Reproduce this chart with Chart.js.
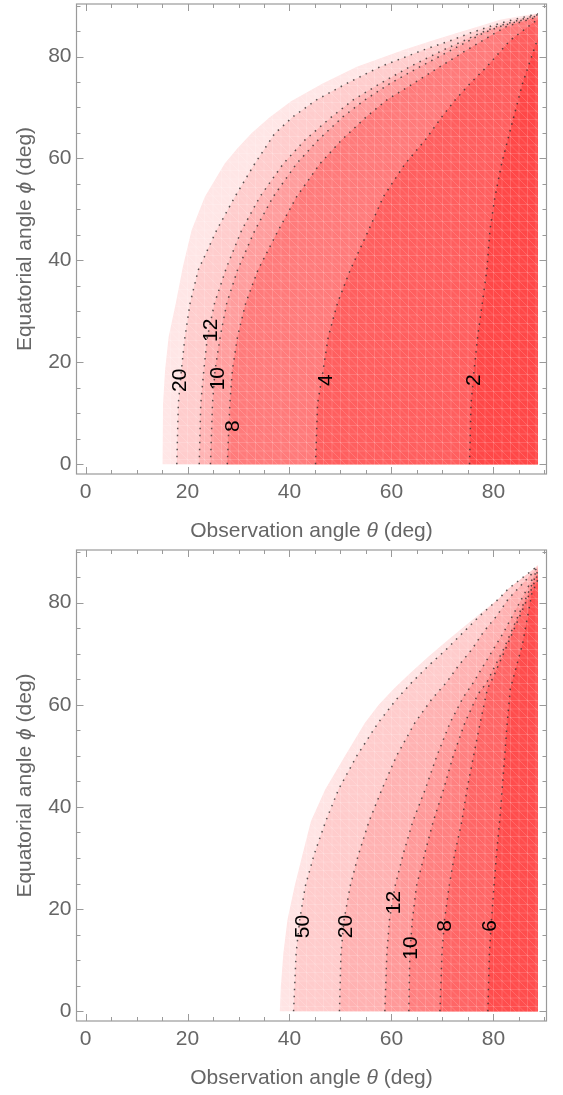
<!DOCTYPE html>
<html>
<head>
<meta charset="utf-8">
<title>Contour maps</title>
<script src="https://cdn.jsdelivr.net/npm/chart.js@4.4.1/dist/chart.umd.min.js"></script>
<style>
  html, body { margin: 0; padding: 0; background: #fff; }
  #wrap { position: relative; width: 563px; height: 1095px; }
  canvas { position: absolute; left: 0; }
</style>
</head>
<body>
<div id="wrap">
  <canvas id="upper" width="563" height="547" style="top:0"></canvas>
  <canvas id="lower" width="563" height="548" style="top:547px"></canvas>
</div>
<script>
// ---- data: [theta, phi] in degrees ----
var thetaEdge = 88.7;
var axisTicks = [0, 20, 40, 60, 80];

// upper panel
var upperEdge = [[15.1,0],[15.2,11.9],[15.6,18.5],[16.3,25.0],[17.7,31.6],[19.1,38.8],[20.8,45.9],[23.4,52.5],[27.3,59.0],[29.8,62.0],[32.6,65.0],[36.0,68.0],[40.3,71.2],[46.5,74.7],[53.2,78.0],[62.3,81.3],[68.2,83.2],[72.8,84.6],[78.0,86.2],[81.3,87.2],[84.5,87.8],[88.7,88.5]];
var upper20 = [[17.9,0],[18.2,11.9],[18.8,18.5],[19.5,25.0],[20.5,31.6],[22.1,38.1],[25.7,45.9],[29.3,52.5],[33.2,59.0],[37.1,64.9],[40.7,68.2],[45.3,71.5],[51.2,74.7],[57.8,78.0],[66.3,81.3],[71.8,83.2],[75.4,84.6],[79.3,85.9],[82.6,86.9],[88.7,88.4]];
var upper12 = [[22.3,0],[22.6,11.9],[23.2,18.5],[23.9,25.0],[25.3,31.6],[27.6,38.5],[30.6,45.9],[34.2,52.5],[38.8,59.0],[43.0,63.6],[48.3,68.2],[52.5,71.5],[57.8,74.7],[63.6,78.0],[70.2,81.3],[74.4,83.2],[77.4,84.6],[80.7,85.9],[88.7,88.2]];
var upper10 = [[24.5,0],[24.9,11.9],[25.4,18.5],[26.4,25.0],[27.7,31.6],[29.8,38.1],[33.2,45.9],[36.8,52.5],[41.4,59.0],[45.6,63.6],[50.5,68.2],[54.8,71.5],[59.7,74.7],[65.6,78.0],[71.8,81.3],[75.4,83.2],[78.0,84.6],[81.3,85.9],[88.7,88.0]];
var upper8 = [[27.8,0],[28.3,11.9],[28.8,18.5],[29.8,25.0],[31.4,31.6],[33.8,38.1],[37.8,45.9],[41.4,52.5],[46.0,59.0],[50.2,63.6],[55.1,68.2],[59.1,71.5],[64.3,74.7],[69.5,78.0],[74.8,81.3],[78.0,83.2],[80.3,84.6],[82.6,85.9],[88.7,87.8]];
var upper4 = [[45.1,0],[45.5,11.9],[46.6,18.5],[47.6,25.0],[49.4,31.6],[51.9,38.1],[55.5,45.9],[58.4,52.5],[62.7,59.0],[66.6,63.6],[69.9,68.2],[72.5,71.5],[75.4,74.7],[78.7,78.0],[81.6,81.3],[83.3,83.2],[88.7,87.3]];
var upper2 = [[75.3,0],[75.6,11.9],[76.2,18.5],[76.9,25.0],[77.8,31.6],[78.7,38.1],[79.3,45.9],[80.3,52.5],[81.6,59.0],[83.2,65.2],[85.7,74.7],[88.7,83.6]];
var upperColors = ['#ffe6e6', '#ffcdcd', '#ffb4b4', '#ff9d9d', '#ff7b7b', '#ff5f5f', '#ff4848'];
var upperLabels = [['20',18.6,16.5],['12',24.6,26.3],['10',26.0,16.8],['8',29.0,7.5],['4',47.2,16.5],['2',76.3,16.5]];

// lower panel
var lowerEdge = [[38.1,0],[38.3,4.8],[38.8,11.4],[39.6,17.9],[41.0,24.5],[42.5,30.5],[44.2,37.2],[47.0,43.4],[50.9,50.0],[54.8,56.5],[57.5,60.0],[60.6,63.3],[63.8,66.3],[67.1,69.3],[70.6,72.3],[74.2,75.3],[77.8,78.2],[81.3,81.0],[84.6,83.5],[86.8,85.3],[88.7,87.4]];
var lower50 = [[40.8,0],[41.3,11.4],[42.0,17.9],[43.1,24.5],[44.8,30.6],[47.1,37.2],[49.6,43.4],[53.2,50.0],[57.4,56.5],[61.0,61.1],[64.0,64.4],[67.2,67.6],[70.8,70.9],[74.1,74.2],[77.4,77.5],[81.0,80.7],[82.9,82.7],[88.7,87.2]];
var lower20 = [[49.8,0],[50.1,11.4],[50.7,17.9],[51.9,24.5],[53.5,30.6],[55.6,37.2],[58.1,43.4],[61.0,50.0],[64.6,56.5],[67.9,61.1],[70.8,64.4],[73.1,67.6],[75.8,70.9],[78.0,74.2],[80.7,77.5],[82.9,80.7],[88.7,86.9]];
var lower12 = [[58.7,0],[59.1,11.4],[59.6,17.9],[60.7,24.5],[62.3,30.8],[64.2,37.2],[66.6,43.4],[68.9,50.0],[71.5,56.5],[74.1,61.5],[76.1,64.4],[78.0,67.6],[80.0,70.9],[82.0,74.2],[88.7,86.6]];
var lower10 = [[63.4,0],[63.6,11.4],[64.1,17.9],[64.9,24.5],[66.5,30.8],[68.2,37.2],[70.2,43.4],[72.1,50.0],[74.4,56.5],[76.9,62.0],[78.7,64.4],[80.3,67.6],[82.0,70.9],[88.7,86.2]];
var lower8 = [[69.5,0],[69.9,11.4],[70.4,17.9],[71.3,24.5],[72.4,30.8],[73.8,37.2],[74.8,43.4],[76.1,50.0],[77.4,56.5],[78.8,63.1],[80.0,65.5],[81.3,68.5],[88.7,85.5]];
var lower6 = [[78.9,0],[79.2,11.4],[79.6,17.9],[80.1,24.5],[80.6,30.8],[81.2,37.2],[81.7,43.4],[82.2,50.0],[82.7,56.5],[83.3,63.1],[85.7,71.9],[87.5,81.7],[88.7,84.5]];
var lowerColors = ['#ffe4e4', '#ffcccc', '#ffb2b2', '#ff9999', '#ff8080', '#ff6666', '#ff4d4d'];
var lowerLabels = [['50',42.6,16.6],['20',51.2,16.6],['12',60.6,21.3],['10',63.9,12.4],['8',70.6,16.7],['6',79.4,16.7]];

// axis titles, split so the symbol can be set in italics
var xTitle = [['Observation angle ', false], ['θ', true], [' (deg)', false]];
var yTitle = [['Equatorial angle ', false], ['ϕ', true], [' (deg)', false]];

var FONT = '"Liberation Sans", Arial, sans-serif';

// fill with the faint polygon mesh Mathematica leaves behind
function meshFill(color) {
  var c = document.createElement('canvas');
  c.width = 17; c.height = 17;
  var g = c.getContext('2d');
  g.fillStyle = color;
  g.fillRect(0, 0, 17, 17);
  g.strokeStyle = 'rgba(255,255,255,0.16)';
  g.lineWidth = 1;
  g.beginPath();
  [0.5, 9].forEach(function (p) {
    g.moveTo(p, 0); g.lineTo(p, 17);
    g.moveTo(0, p); g.lineTo(17, p);
  });
  g.moveTo(0, 0); g.lineTo(17, 17);
  g.moveTo(8.5, 0); g.lineTo(17, 8.5);
  g.moveTo(0, 8.5); g.lineTo(8.5, 17);
  g.stroke();
  return g.createPattern(c, 'repeat');
}

function toPts(curve) {
  return curve.map(function (p) { return {x: p[0], y: p[1]}; });
}

// region right of a contour: contour, then down the right edge, then back
function region(curve) {
  var pts = toPts(curve);
  pts.push({x: thetaEdge, y: 0});
  pts.push({x: curve[0][0], y: curve[0][1]});
  return pts;
}

// frame with inward ticks on all four sides
var framePlugin = {
  id: 'frame',
  afterDatasetsDraw: function (chart) {
    var a = chart.chartArea, ctx = chart.ctx;
    var xs = chart.scales.x, ys = chart.scales.y;
    ctx.save();
    ctx.strokeStyle = '#9a9a9a';
    ctx.lineWidth = 1.2;
    ctx.strokeRect(a.left, a.top, a.right - a.left, a.bottom - a.top);
    ctx.beginPath();
    for (var v = 0; v <= 90; v += 5) {
      var len = (v % 20 === 0) ? 7 : 4;
      var px = Math.round(xs.getPixelForValue(v)) + 0.5;
      ctx.moveTo(px, a.bottom); ctx.lineTo(px, a.bottom - len);
      ctx.moveTo(px, a.top); ctx.lineTo(px, a.top + len);
      var py = Math.round(ys.getPixelForValue(v)) + 0.5;
      ctx.moveTo(a.left, py); ctx.lineTo(a.left + len, py);
      ctx.moveTo(a.right, py); ctx.lineTo(a.right - len, py);
    }
    ctx.lineWidth = 1;
    ctx.stroke();
    ctx.restore();
  }
};

// rotated contour level labels
var labelPlugin = {
  id: 'levelLabels',
  afterDatasetsDraw: function (chart, args, opts) {
    var ctx = chart.ctx, xs = chart.scales.x, ys = chart.scales.y;
    ctx.save();
    ctx.fillStyle = '#000';
    ctx.font = '21px ' + FONT;
    ctx.textAlign = 'center';
    ctx.textBaseline = 'middle';
    (opts.items || []).forEach(function (l) {
      ctx.save();
      ctx.translate(xs.getPixelForValue(l[1]), ys.getPixelForValue(l[2]));
      ctx.rotate(-Math.PI / 2);
      ctx.fillText(l[0], 0, 0);
      ctx.restore();
    });
    ctx.restore();
  }
};

function drawParts(ctx, parts, cx, cy) {
  var fonts = parts.map(function (p) { return (p[1] ? 'italic ' : '') + '21px ' + FONT; });
  var total = 0;
  parts.forEach(function (p, i) { ctx.font = fonts[i]; total += ctx.measureText(p[0]).width; });
  var x = cx - total / 2;
  parts.forEach(function (p, i) {
    ctx.font = fonts[i];
    ctx.fillText(p[0], x, cy);
    x += ctx.measureText(p[0]).width;
  });
}

var titlePlugin = {
  id: 'axisTitles',
  afterDraw: function (chart, args, opts) {
    var ctx = chart.ctx, a = chart.chartArea;
    ctx.save();
    ctx.fillStyle = '#666';
    ctx.textAlign = 'left';
    ctx.textBaseline = 'middle';
    drawParts(ctx, xTitle, (a.left + a.right) / 2, opts.xTitleY);
    ctx.translate(opts.yTitleX, (a.top + a.bottom) / 2);
    ctx.rotate(-Math.PI / 2);
    drawParts(ctx, yTitle, 0, 0);
    ctx.restore();
  }
};

function build(id, edge, contours, colors, labels, padTop, axisH, titleY) {
  var datasets = [];
  [edge].concat(contours).forEach(function (c, i) {
    datasets.push({
      data: region(c),
      showLine: true,
      fill: 'shape',
      backgroundColor: meshFill(colors[i]),
      borderWidth: 0,
      pointRadius: 0,
      order: 100 - i
    });
  });
  contours.forEach(function (c) {
    datasets.push({
      data: toPts(c),
      showLine: true,
      fill: false,
      borderColor: 'rgba(45,45,45,0.8)',
      borderWidth: 1.5,
      borderDash: [1.5, 5.5],
      pointRadius: 0,
      order: 0
    });
  });

  var tickFont = {family: FONT, size: 21};
  new Chart(document.getElementById(id), {
    type: 'scatter',
    data: {datasets: datasets},
    plugins: [framePlugin, labelPlugin, titlePlugin],
    options: {
      responsive: false,
      animation: false,
      layout: {padding: {top: padTop, right: 16.5, bottom: 0, left: 0}},
      plugins: {
        legend: {display: false},
        tooltip: {enabled: false},
        levelLabels: {items: labels},
        axisTitles: {xTitleY: titleY, yTitleX: 25}
      },
      scales: {
        x: {
          type: 'linear',
          min: -1.77,
          max: 90.4,
          afterBuildTicks: function (s) { s.ticks = axisTicks.map(function (v) { return {value: v}; }); },
          afterFit: function (s) { s.height = axisH; s.paddingLeft = 0; s.paddingRight = 0; },
          grid: {display: false, drawTicks: false},
          border: {display: false},
          ticks: {color: '#666', font: tickFont, padding: 6, maxRotation: 0, autoSkip: false}
        },
        y: {
          type: 'linear',
          min: -1.9,
          max: 90.3,
          afterBuildTicks: function (s) { s.ticks = axisTicks.map(function (v) { return {value: v}; }); },
          afterFit: function (s) { s.width = 76.5; s.paddingTop = 0; s.paddingBottom = 0; },
          grid: {display: false, drawTicks: false},
          border: {display: false},
          ticks: {color: '#666', font: tickFont, padding: 5, autoSkip: false}
        }
      }
    }
  });
}

build('upper', upperEdge, [upper20, upper12, upper10, upper8, upper4, upper2], upperColors, upperLabels, 4, 73, 531.5);
build('lower', lowerEdge, [lower50, lower20, lower12, lower10, lower8, lower6], lowerColors, lowerLabels, 3, 74, 531);
</script>
</body>
</html>
